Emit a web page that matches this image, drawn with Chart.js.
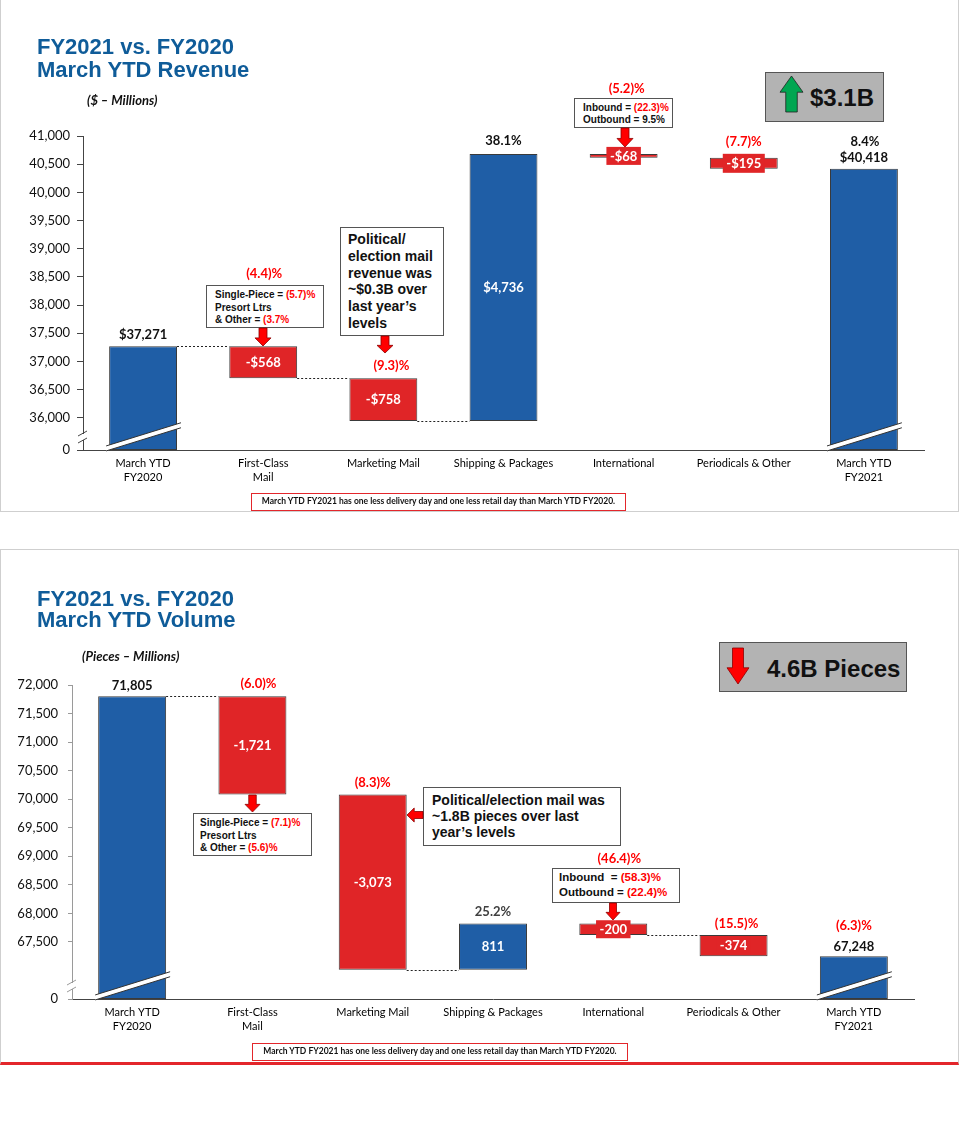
<!DOCTYPE html>
<html lang="en">
<head>
<meta charset="utf-8">
<title>March YTD Revenue and Volume</title>
<script src="https://cdn.jsdelivr.net/npm/chart.js@4.4.1/dist/chart.umd.min.js"></script>
<style>
  body { margin: 0; width: 960px; height: 1125px; position: relative; background: #fff; overflow: hidden; font-family: 'Liberation Sans', Arial, sans-serif; }
  .frame { position: absolute; left: 0; width: 957px; border-left: 1px solid #cfcfcf; border-right: 1px solid #cfcfcf; }
  .title { position: absolute; left: 37px; color: #0f5c99; font-weight: bold; font-size: 22px; white-space: nowrap; }
  .units { position: absolute; font-family: Lato, sans-serif; font-weight: bold; font-style: italic; font-size: 13px; line-height: 16px; color: #111; white-space: nowrap; }
  .note { position: absolute; box-sizing: border-box; height: 18px; border: 1.5px solid #e3262b; font-family: Lato, sans-serif; font-weight: bold; font-size: 8.5px; line-height: 15px; text-align: center; color: #111; white-space: nowrap; }
  .callout { position: absolute; box-sizing: border-box; border: 1px solid #555; background: #fff; font-weight: bold; color: #111; white-space: nowrap; }
  .callout .r { color: #ff0000; }
  .badge { position: absolute; box-sizing: border-box; border: 1px solid #555; background: #b3b3b3; }
  .badge span { position: absolute; font-weight: bold; font-size: 24px; line-height: 28px; color: #111; white-space: nowrap; }
  canvas { position: absolute; left: 0; }
</style>
</head>
<body>

<!-- revenue panel -->
<div class="frame" style="top:0;height:511px;border-bottom:1px solid #cfcfcf"></div>
<canvas id="revChart" width="960" height="512" style="top:0;width:960px;height:512px"></canvas>
<div class="title" style="top:35px;line-height:23px">FY2021 vs. FY2020<br>March YTD Revenue</div>
<div class="units" style="left:87px;top:92px">($ – Millions)</div>
<div class="badge" style="left:765px;top:72px;width:119px;height:50px"><span style="left:44px;top:11px">$3.1B</span></div>
<div class="callout" style="left:206px;top:285px;width:118px;height:43px;font-size:10px;line-height:12.5px;padding:3px 0 0 8px">Single-Piece = <span class="r">(5.7)%</span><br>Presort Ltrs<br>&amp; Other = <span class="r">(3.7%</span></div>
<div class="callout" style="left:340px;top:227px;width:104px;height:109px;font-size:14px;line-height:16.8px;padding:3px 0 0 7px">Political/<br>election mail<br>revenue was<br>~$0.3B over<br>last year’s<br>levels</div>
<div class="callout" style="left:574px;top:98px;width:99px;height:30px;font-size:10px;line-height:11.5px;padding:3px 0 0 8px">Inbound = <span class="r">(22.3)%</span><br>Outbound = 9.5%</div>
<div class="note" style="left:251px;top:493px;width:375px">March YTD FY2021 has one less delivery day and one less retail day than March YTD FY2020.</div>

<!-- volume panel -->
<div class="frame" style="top:549px;height:512px;border-top:1px solid #cfcfcf;border-bottom:3px solid #e3262b"></div>
<canvas id="volChart" width="960" height="516" style="top:549px;width:960px;height:516px"></canvas>
<div class="title" style="top:588px;line-height:21px">FY2021 vs. FY2020<br>March YTD Volume</div>
<div class="units" style="left:82px;top:648px">(Pieces – Millions)</div>
<div class="badge" style="left:719px;top:642px;width:188px;height:50px"><span style="left:47px;top:12px">4.6B Pieces</span></div>
<div class="callout" style="left:193px;top:813px;width:119px;height:43px;font-size:10px;line-height:12.5px;padding:3px 0 0 6px">Single-Piece = <span class="r">(7.1)%</span><br>Presort Ltrs<br>&amp; Other = <span class="r">(5.6)%</span></div>
<div class="callout" style="left:423px;top:787px;width:198px;height:59px;font-size:14px;line-height:16px;padding:4px 0 0 8px">Political/election mail was<br>~1.8B pieces over last<br>year’s levels</div>
<div class="callout" style="left:552px;top:868px;width:128px;height:35px;font-size:11.5px;line-height:15px;padding:1px 0 0 6px">Inbound &nbsp;= <span class="r">(58.3)%</span><br>Outbound = <span class="r">(22.4)%</span></div>
<div class="note" style="left:252px;top:1043px;width:376px">March YTD FY2021 has one less delivery day and one less retail day than March YTD FY2020.</div>

<script>
// Categories shared by both charts
const categories = [['March YTD', 'FY2020'], ['First-Class', 'Mail'], 'Marketing Mail', 'Shipping & Packages',
    'International', 'Periodicals & Other', ['March YTD', 'FY2021']];

// Revenue ($ millions)
const revStart = 37271;
const revChanges = [-568, -758, 4736, -68, -195];
const revEnd = 40418;
const revPct = ['', '(4.4)%', '(9.3)%', '38.1%', '(5.2)%', '(7.7)%', '8.4%'];
const revTicks = [0, 36000, 36500, 37000, 37500, 38000, 38500, 39000, 39500, 40000, 40500, 41000];

// Volume (pieces, millions)
const volStart = 71805;
const volChanges = [-1721, -3073, 811, -200, -374];
const volEnd = 67248;
const volPct = ['', '(6.0)%', '(8.3)%', '25.2%', '(46.4)%', '(15.5)%', '(6.3)%'];
const volTicks = [0, 67500, 68000, 68500, 69000, 69500, 70000, 70500, 71000, 71500, 72000];

const BLUE = '#1f5ea6';
const RED = '#e02527';

// small block arrows drawn as inline svg
function blockArrow(x, y, w, h, dir, fill, stroke) {
    const s = w * 0.5, hh = h * 0.45;
    let pts = [[(w - s) / 2, 0], [(w + s) / 2, 0], [(w + s) / 2, h - hh], [w, h - hh], [w / 2, h], [0, h - hh], [(w - s) / 2, h - hh]];
    let sw = w, sh = h;
    if (dir === 'up') pts = pts.map(p => [p[0], h - p[1]]);
    if (dir === 'left') { pts = pts.map(p => [h - p[1], p[0]]); sw = h; sh = w; }
    const svg = document.createElementNS('http://www.w3.org/2000/svg', 'svg');
    svg.setAttribute('width', sw + 2);
    svg.setAttribute('height', sh + 2);
    svg.style.position = 'absolute';
    svg.style.left = (x - 1) + 'px';
    svg.style.top = (y - 1) + 'px';
    svg.innerHTML = '<polygon points="' + pts.map(p => (p[0] + 1) + ',' + (p[1] + 1)).join(' ') +
        '" fill="' + fill + '" stroke="' + stroke + '" stroke-width="0.8"/>';
    document.body.appendChild(svg);
}

blockArrow(780, 76, 23, 36, 'up', '#00a651', '#222');
blockArrow(255, 328, 16, 18, 'down', '#ff0000', '#8b0000');
blockArrow(377, 336, 16, 17, 'down', '#ff0000', '#8b0000');
blockArrow(617, 128, 16, 19, 'down', '#ff0000', '#8b0000');
blockArrow(727, 648, 22, 36, 'down', '#ff0000', '#8b0000');
blockArrow(245, 795, 15, 17, 'down', '#ff0000', '#8b0000');
blockArrow(606, 903, 14, 17, 'down', '#ff0000', '#8b0000');
blockArrow(407, 808, 14, 16, 'left', '#ff0000', '#8b0000');

function waterfall(id, o) {
    // floating ranges: totals sit on the (broken) axis, changes float on the running total
    const ranges = [[o.axisMin, o.start]];
    let run = o.start;
    o.changes.forEach(c => { ranges.push([run, run + c]); run += c; });
    ranges.push([o.axisMin, o.end]);
    const last = ranges.length - 1;
    const colors = ranges.map((r, i) => (i === 0 || i === last || r[1] > r[0]) ? BLUE : RED);
    const fmt = v => Math.abs(v).toLocaleString('en-US');
    const texts = [o.prefix + fmt(o.start)]
        .concat(o.changes.map(c => (c < 0 ? '-' : '') + o.prefix + fmt(c)))
        .concat([o.prefix + fmt(o.end)]);

    const marks = {
        id: 'wfMarks',
        afterDatasetsDraw(chart) {
            const ctx = chart.ctx;
            const bars = chart.getDatasetMeta(0).data;
            const area = chart.chartArea;
            const ys = chart.scales.y;
            ctx.save();

            // dotted connectors
            ctx.strokeStyle = '#222';
            ctx.lineWidth = 1;
            ctx.setLineDash([2, 2]);
            o.look.connect.forEach((on, i) => {
                if (!on) return;
                const a = bars[i], b = bars[i + 1];
                const y = Math.round(ys.getPixelForValue(ranges[i][1])) + 0.5;
                ctx.beginPath();
                ctx.moveTo(a.x + a.width / 2, y);
                ctx.lineTo(b.x - b.width / 2, y);
                ctx.stroke();
            });
            ctx.setLineDash([]);

            // break stripes on the total bars
            const cy = area.bottom - 13;
            [0, last].forEach(i => {
                const b = bars[i];
                const k = 0.31, t = 5;
                const x1 = b.x - b.width / 2 - 3, x2 = b.x + b.width / 2 + 4;
                const yAt = x => cy - (x - b.x) * k;
                ctx.beginPath();
                ctx.moveTo(x1, yAt(x1) - t / 2);
                ctx.lineTo(x2, yAt(x2) - t / 2);
                ctx.lineTo(x2, yAt(x2) + t / 2);
                ctx.lineTo(x1, yAt(x1) + t / 2);
                ctx.closePath();
                ctx.fillStyle = '#fff';
                ctx.fill();
                ctx.strokeStyle = '#333';
                ctx.beginPath();
                ctx.moveTo(x1, yAt(x1) - t / 2); ctx.lineTo(x2, yAt(x2) - t / 2);
                ctx.moveTo(x1, yAt(x1) + t / 2); ctx.lineTo(x2, yAt(x2) + t / 2);
                ctx.stroke();
            });

            // break mark on the y axis
            const ax = area.left;
            ctx.fillStyle = '#fff';
            ctx.fillRect(ax - 2, cy - 3, 4, 6);
            ctx.strokeStyle = o.look.axisColor;
            ctx.beginPath();
            ctx.moveTo(ax - 5, cy - 1); ctx.lineTo(ax + 4, cy - 6);
            ctx.moveTo(ax - 5, cy + 6); ctx.lineTo(ax + 4, cy + 1);
            ctx.stroke();

            // value and percent labels
            ctx.textAlign = 'center';
            ctx.textBaseline = 'middle';
            ctx.font = 'bold 13px Lato, sans-serif';
            bars.forEach((b, i) => {
                const top = Math.min(b.y, b.base), bottom = Math.max(b.y, b.base);
                if (i === 0 || i === last) {
                    ctx.fillStyle = '#111';
                    ctx.fillText(texts[i], b.x, top - o.look.valueGap[i]);
                } else {
                    const mid = (top + bottom) / 2;
                    if (bottom - top < 22) {
                        const w = ctx.measureText(texts[i]).width + 7;
                        ctx.fillStyle = RED;
                        ctx.fillRect(b.x - w / 2, mid - o.look.boxH[i] / 2, w, o.look.boxH[i]);
                    }
                    ctx.fillStyle = '#fff';
                    ctx.fillText(texts[i], b.x, mid + 0.5);
                }
                const p = o.pct[i];
                if (p) {
                    ctx.fillStyle = p.startsWith('(') ? '#ff0000' : o.look.posColor;
                    ctx.fillText(p, b.x + o.look.pctDx[i], top - o.look.pctGap[i]);
                }
            });
            ctx.restore();
        }
    };

    return new Chart(document.getElementById(id), {
        type: 'bar',
        data: {
            labels: categories,
            datasets: [{
                data: ranges,
                backgroundColor: colors,
                borderColor: '#3a3a3a',
                borderWidth: 1,
                borderSkipped: false,
                barPercentage: 0.565,
                categoryPercentage: 1
            }]
        },
        options: {
            responsive: false,
            animation: false,
            layout: { padding: { top: 136, right: o.look.padRight, bottom: 0, left: 0 } },
            plugins: { legend: { display: false }, tooltip: { enabled: false } },
            scales: {
                x: {
                    grid: { display: false, drawTicks: false },
                    border: { display: true, color: '#444' },
                    ticks: {
                        padding: 6, color: '#000', maxRotation: 0, autoSkip: false,
                        font: { family: 'Lato, sans-serif', size: 11, lineHeight: 1.27 }
                    },
                    afterFit: s => { s.height = o.look.xHeight; }
                },
                y: {
                    min: o.axisMin,
                    max: o.ticks[o.ticks.length - 1],
                    afterBuildTicks: s => { s.ticks = o.ticks.map(v => ({ value: v === 0 ? o.axisMin : v })); },
                    afterFit: s => { s.width = o.look.yWidth; },
                    grid: { drawOnChartArea: false, drawTicks: true, tickLength: o.look.tickLen, color: o.look.axisColor },
                    border: { display: true, color: o.look.axisColor },
                    ticks: {
                        padding: o.look.tickPad, color: '#111',
                        font: { family: 'Lato, sans-serif', size: 13 },
                        callback: v => v === o.axisMin ? '0' : v.toLocaleString('en-US')
                    }
                }
            }
        },
        plugins: [marks]
    });
}

waterfall('revChart', {
    start: revStart, changes: revChanges, end: revEnd, pct: revPct, ticks: revTicks,
    axisMin: 35430, prefix: '$',
    look: {
        yWidth: 83, padRight: 36, xHeight: 62, tickLen: 6, tickPad: 7, axisColor: '#444', posColor: '#111',
        valueGap: [11, 0, 0, 0, 0, 0, 11],
        pctGap: [0, 72, 12, 13, 65, 16, 27],
        pctDx: [0, 1, 8, 0, 3, 0, 1],
        boxH: [0, 0, 0, 0, 18, 19, 0],
        connect: [true, true, true, false, false, false]
    }
});

waterfall('volChart', {
    start: volStart, changes: volChanges, end: volEnd, pct: volPct, ticks: volTicks,
    axisMin: 66500, prefix: '',
    look: {
        yWidth: 72, padRight: 46, xHeight: 66, tickLen: 4, tickPad: 10, axisColor: '#9a9a9a', posColor: '#404040',
        valueGap: [10, 0, 0, 0, 0, 0, 9],
        pctGap: [0, 12, 12, 12, 65, 11, 30],
        pctDx: [0, 6, 0, 0, 6, 3, 0],
        boxH: [0, 0, 0, 0, 18, 18, 0],
        connect: [true, false, true, false, true, false]
    }
});
</script>
</body>
</html>
